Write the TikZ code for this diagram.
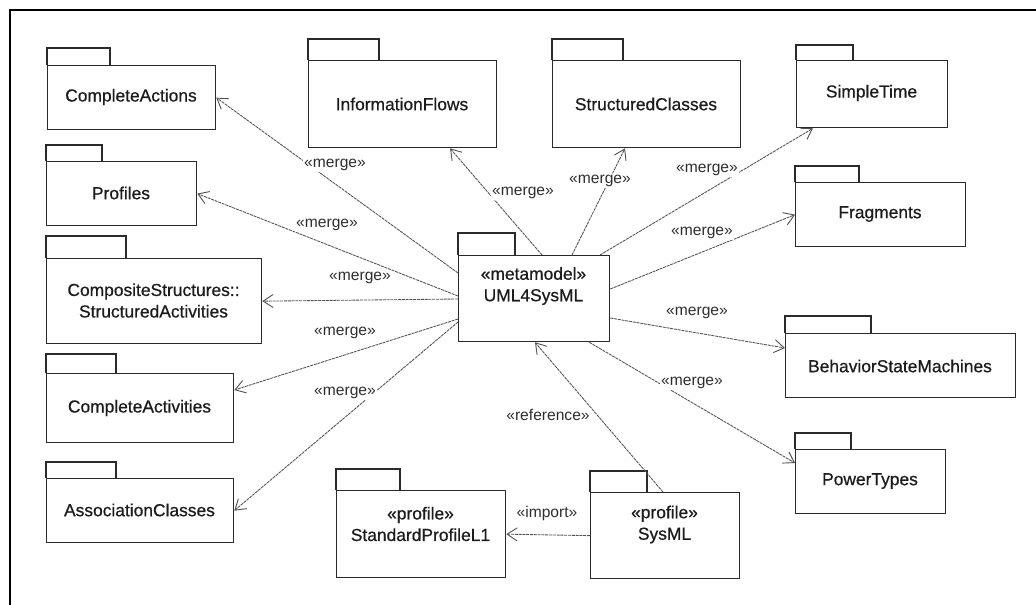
\documentclass[tikz,border=0pt]{standalone}
\usepackage{fontspec}
\setmainfont{Liberation Sans}
\newfontfamily\pkgfont{Liberation Sans}[FakeBold=0.6]
\usetikzlibrary{arrows.meta,calc}

\definecolor{boxline}{HTML}{2A2A2A}
\definecolor{linkline}{HTML}{505050}
\definecolor{inktext}{HTML}{1C1C1C}
\definecolor{tagtext}{HTML}{2E2E2E}

\tikzset{
  pkgline/.style={draw=boxline, line width=1.3pt, line join=miter},
  pkgbody/.style={pkgline, rectangle, inner sep=0pt, fill=white},
  pkgtext/.style={font=\pkgfont\fontsize{17.4}{21.5}\selectfont, text=inktext, align=center, inner sep=0pt},
  merge/.style={draw=linkline, line width=0.85pt, dash pattern=on 3pt off 0.8pt,
                -{Straight Barb[length=10pt,width=13pt,line width=0.9pt]}},
  tag/.style={font=\fontsize{15.6}{18}\selectfont, text=tagtext, fill=white, inner sep=1.5pt},
}

% package symbol: name, left, tab top, tab right, body top, right, bottom, text centre y, text
\newcommand\umlpkg[9]{%
  \node[pkgbody, anchor=north west, minimum width={(#6-#2)*1pt},
        minimum height={(#7-#5)*1pt}] (#1) at (#2,#5) {};
  \draw[pkgline] (#1.north west) -- (#2,#3) -- (#4,#3) -- (#4,#5);
  \node[pkgtext] (#1-t) at ({(#2+#6)/2},#8) {#9};
}

\begin{document}
\begin{tikzpicture}[x=1pt,y=-1pt]
  \useasboundingbox (0,0) rectangle (1036,605);
  \fill[white] (0,0) rectangle (1036,605);

  % frame
  \draw[line width=2pt, black] (10,605) -- (10,10) -- (1036,10);

  % packages on the left
  \umlpkg{ca}{47}{48}{110}{65}{215}{129}{97}{CompleteActions}
  \umlpkg{pr}{46}{145}{102}{161}{196}{225}{193}{Profiles}
  \umlpkg{cs}{46}{236}{126}{258}{261}{343}{300.5}{CompositeStructures::\\StructuredActivities}
  \umlpkg{cact}{46}{354}{116}{373}{233}{442}{408}{CompleteActivities}
  \umlpkg{ac}{46}{462}{116}{478}{233}{542}{510}{AssociationClasses}

  % packages on top
  \umlpkg{if}{308}{39}{379}{60}{496}{147}{104}{InformationFlows}
  \umlpkg{sc}{552}{39}{623}{60}{740}{147}{104}{StructuredClasses}

  % packages on the right
  \umlpkg{st}{796}{45}{853}{60}{947}{127}{93}{SimpleTime}
  \umlpkg{fr}{795}{166}{859}{182}{965}{246}{214}{Fragments}
  \umlpkg{bsm}{785}{316}{871}{333}{1015}{397}{366}{BehaviorStateMachines}
  \umlpkg{pt}{795}{433}{851}{449}{945}{513}{481}{PowerTypes}

  % central metamodel and profiles
  \umlpkg{uml}{458}{233}{515}{255}{609}{341}{286}{«metamodel»\\UML4SysML}
  \umlpkg{spl}{336}{469}{400}{490}{505}{577}{524}{«profile»\\StandardProfileL1}
  \umlpkg{sysml}{590}{471}{647}{492}{739}{578}{524.5}{«profile»\\SysML}

  % merge dependencies
  \draw[merge] ($(uml.north west)+(0,18)$) -- (ca.east);
  \draw[merge] ($(uml.north west)+(0,41)$) -- (pr.east);
  \draw[merge] ($(uml.north west)+(0,44)$) -- (cs.east);
  \draw[merge] ($(uml.north west)+(0,64)$) -- ($(cact.north east)+(0,17)$);
  \draw[merge] ($(uml.north west)+(0,67)$) -- (ac.east);
  \draw[merge] ($(uml.north west)+(84,0)$) -- ($(if.south west)+(142,0)$);
  \draw[merge] ($(uml.north west)+(114,0)$) -- ($(sc.south west)+(73,0)$);
  \draw[merge] ($(uml.north west)+(142,0)$) -- ($(st.south west)+(17,0)$);
  \draw[merge] ($(uml.north east)+(0,34)$) -- (fr.west);
  \draw[merge] ($(uml.north east)+(0,63)$) -- ($(bsm.north west)+(0,15)$);
  \draw[merge] ($(uml.south east)+(-21,0)$) -- ($(pt.north west)+(0,14)$);

  % reference and import
  \draw[merge] ($(sysml.north west)+(73,0)$) -- ($(uml.south west)+(77,0)$);
  \draw[merge] (sysml.west) -- (spl.east);

  % dependency labels
  \node[tag] (m1) at (335,165) {«merge»};
  \node[tag] (m2) at (327,225) {«merge»};
  \node[tag] (m3) at (360,278) {«merge»};
  \node[tag] (m4) at (345,333) {«merge»};
  \node[tag] (m5) at (345,393) {«merge»};
  \node[tag] (m6) at (523,193) {«merge»};
  \node[tag] (m7) at (600,181) {«merge»};
  \node[tag] (m8) at (707,170) {«merge»};
  \node[tag] (m9) at (702,233) {«merge»};
  \node[tag] (m10) at (697,313) {«merge»};
  \node[tag] (m11) at (692,383) {«merge»};
  \node[tag] (rf) at (548,415) {«reference»};
  \node[tag] (im) at (547,513) {«import»};
\end{tikzpicture}
\end{document}
